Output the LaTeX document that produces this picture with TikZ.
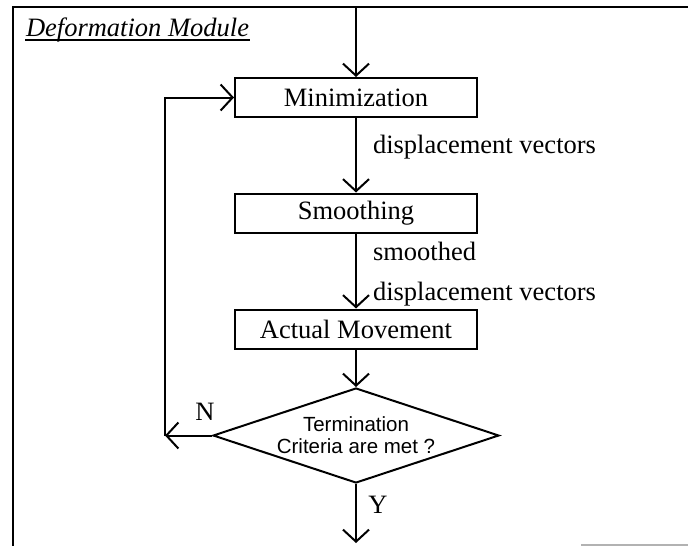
\documentclass[tikz,border=0pt]{standalone}
\usepackage{fontspec}
\setmainfont{Liberation Serif}
\newfontfamily\decisionfont{Liberation Sans}
\usetikzlibrary{arrows.meta,shapes.geometric}
\begin{document}
\begin{tikzpicture}[x=1pt,y=-1pt,
  line width=2pt,
  flow/.style={-{Straight Barb[length=12pt,width=26pt]}},
  bodyfont/.style={font=\fontsize{26.5}{30}\selectfont},
  stepbox/.style={draw, bodyfont, minimum width=242pt, minimum height=39pt, inner sep=0pt},
  decision/.style={draw, diamond, minimum width=286pt, minimum height=95pt, inner sep=0pt},
  lbl/.style={bodyfont, inner sep=0pt},
]
\useasboundingbox (0,0) rectangle (688,546);

% module frame (open on the right and bottom)
\draw[line width=2.5pt] (13,546) -- (13,7) -- (688,7);
\draw[gray!60, line width=1.5pt] (581,545) -- (688,545);

% title
\node[lbl, anchor=base west] (title) at (25,36) {\textit{Deformation Module}};
\draw[line width=1.3pt] ([yshift=-4pt]title.base west) -- ([yshift=-4pt]title.base east);

% process steps
\node[stepbox] (min)    at (356,97.5) {Minimization};
\node[stepbox] (smooth) at (356,213)  {Smoothing};
\node[stepbox] (act)    at (356,329)  {Actual Movement};

% termination test
\node[decision] (term) at (356,435.5) {};
\node[align=center, inner sep=0pt, font=\decisionfont\fontsize{20.5}{22}\selectfont]
  (termtext) at (356,435) {Termination\\Criteria are met ?};

% free ends of connectors
\coordinate (in)  at (356,7);
\coordinate (out) at (356,543);
\coordinate (fbL) at (165,435.5);
\coordinate (fbT) at (165,97.5);

% main flow
\draw[flow] (in) -- (min.north);
\draw[flow] (min) -- (smooth);
\draw[flow] (smooth) -- (act);
\draw[flow] (act) -- (term);
\draw[flow] (term) -- (out);

% loop back when criteria are not met
\draw[flow] (term.west) -- (fbL);
\draw[flow] (fbL) -- (fbT) -- (min.west);

% connector labels
\node[lbl, anchor=base west] (dv1) at (372,153) {displacement vectors};
\node[lbl, anchor=base west] (sm)  at (372,260) {smoothed};
\node[lbl, anchor=base west] (dv2) at (372,300) {displacement vectors};
\node[lbl] (no)  at (205,412) {N};
\node[lbl] (yes) at (378,505) {Y};
\end{tikzpicture}
\end{document}
